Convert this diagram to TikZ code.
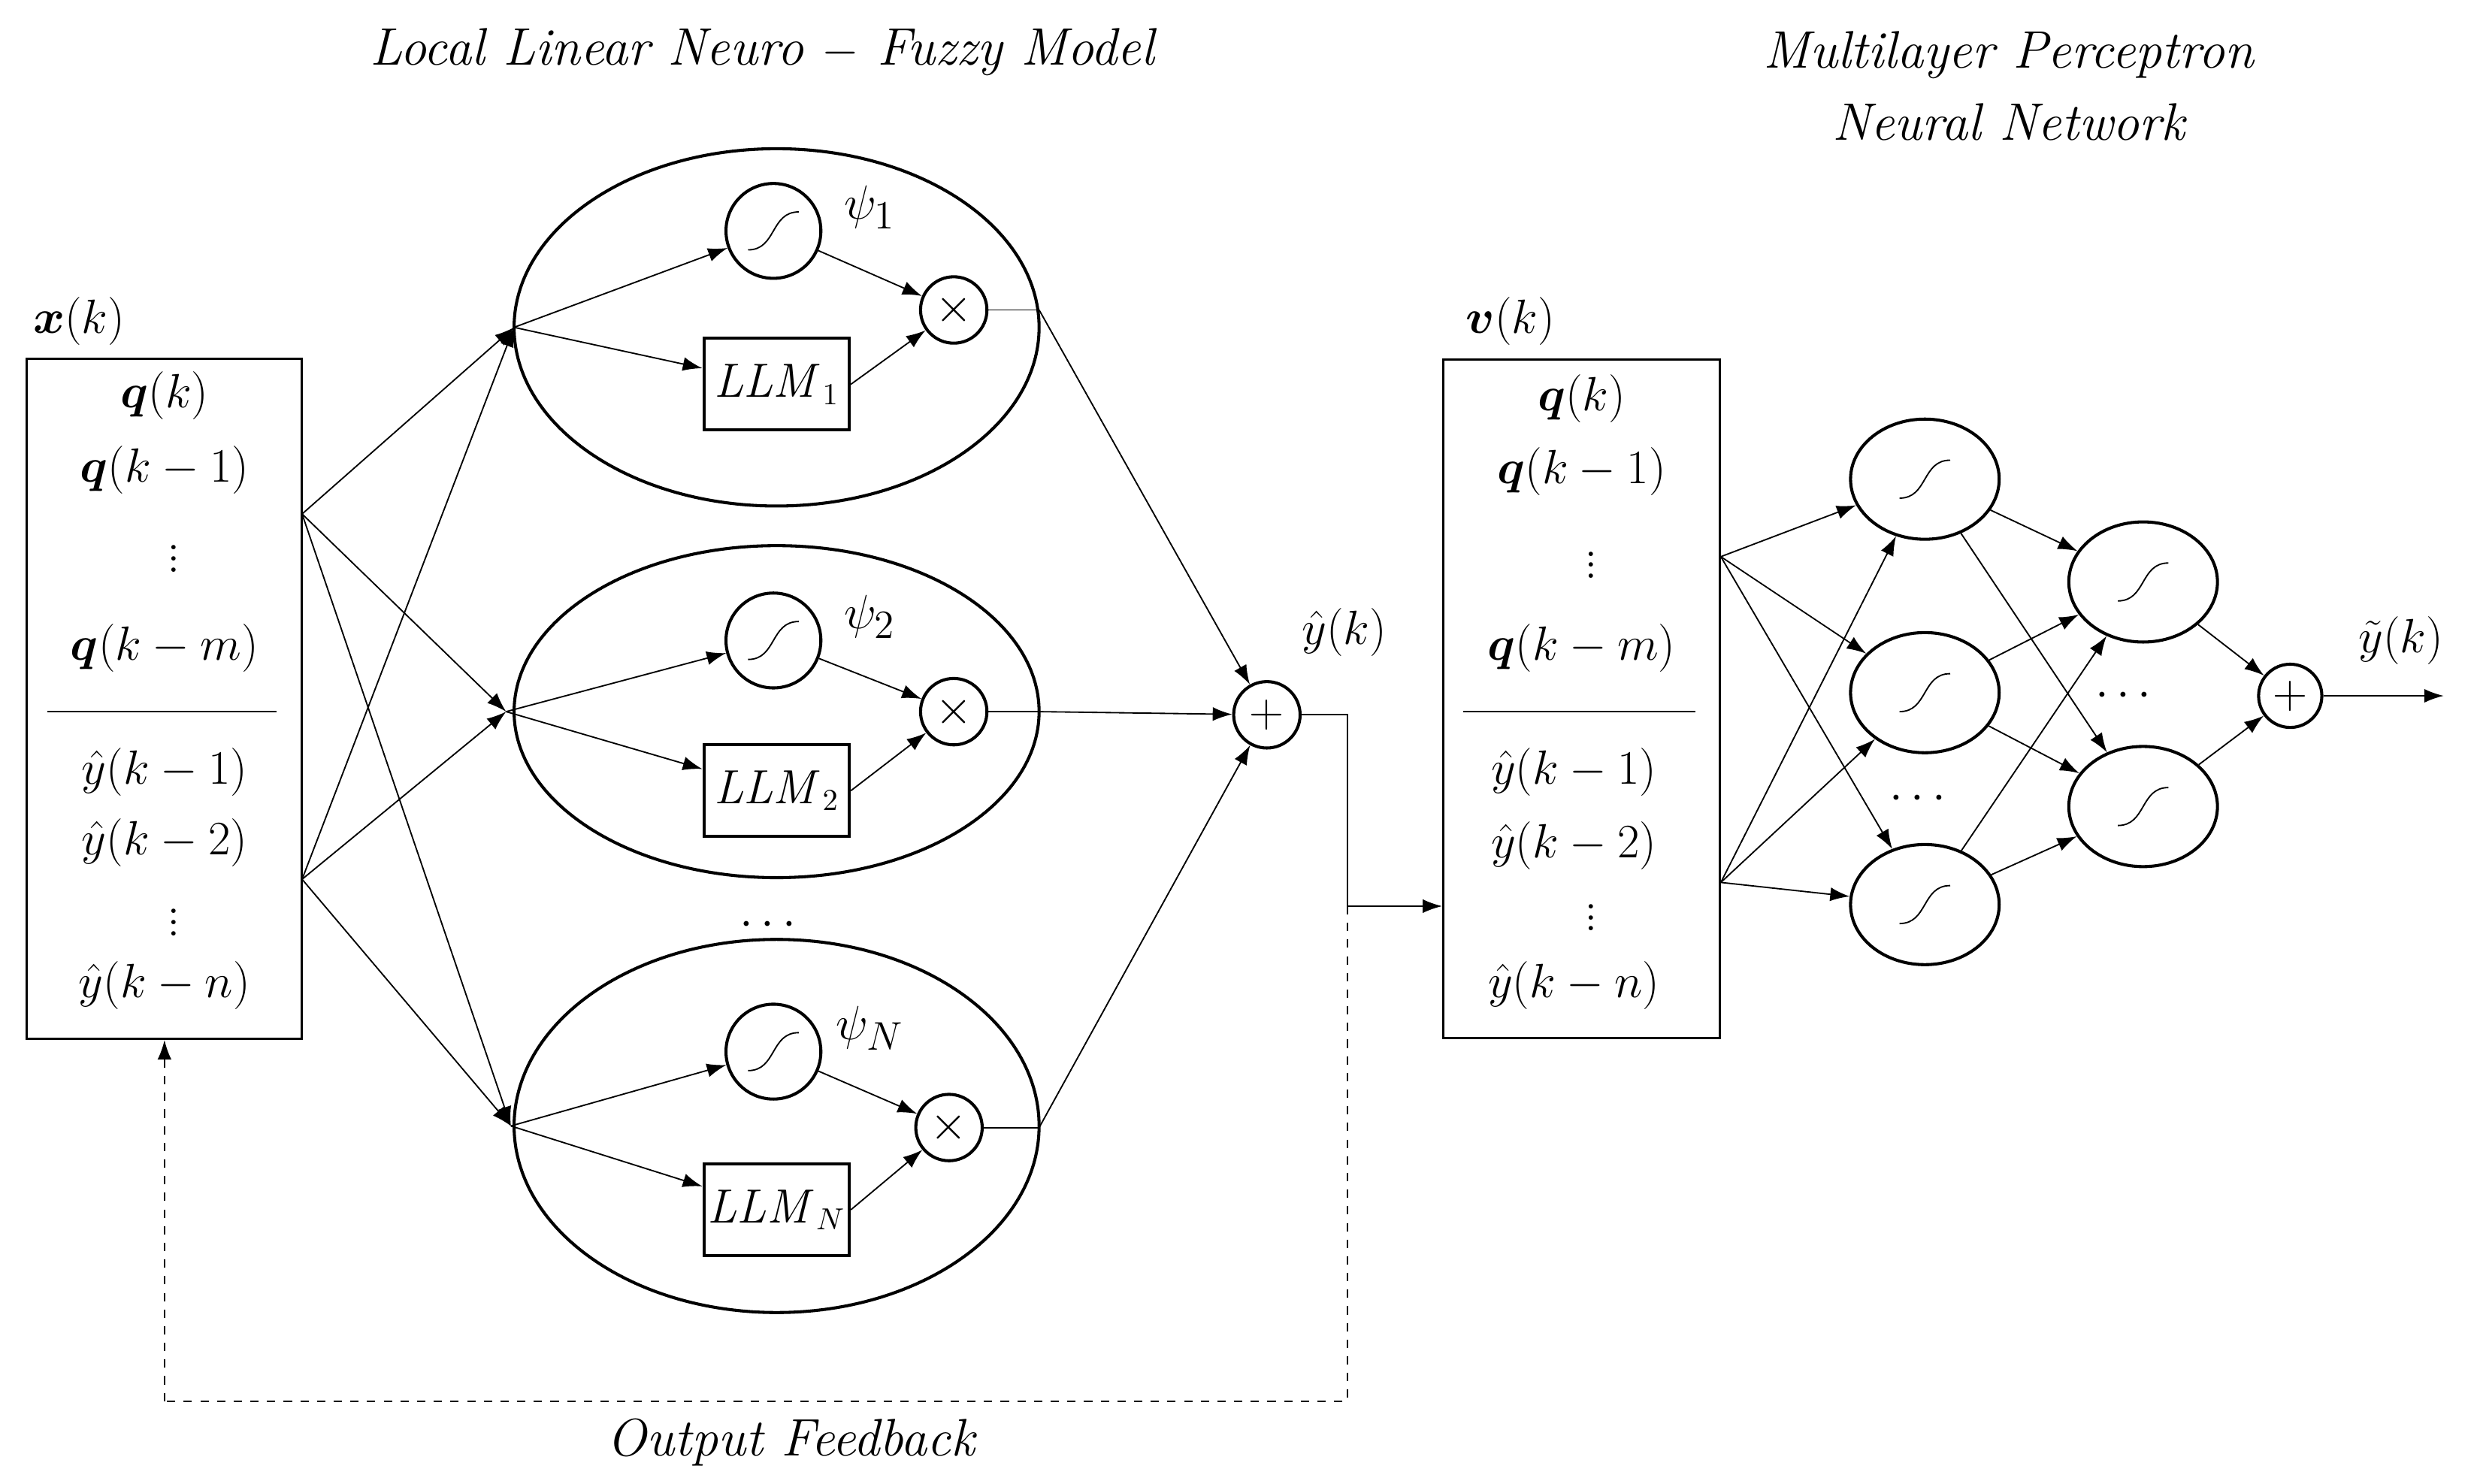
\documentclass[tikz,border=0pt]{standalone}
\usepackage{amsmath,bm}
\usetikzlibrary{arrows.meta,shapes.geometric,calc}
\begin{document}
\begin{tikzpicture}[x=0.02cm,y=-0.02cm,
  every node/.style={font=\fontsize{19}{22}\selectfont,inner sep=1pt},
  ar/.style={-{Latex[length=7pt,width=5pt]},line width=0.5pt},
  ln/.style={line width=0.5pt},
  sig/.style={circle,draw,line width=1.1pt,minimum size=1.2cm,inner sep=0pt},
  big/.style={ellipse,draw,line width=1.1pt},
  llm/.style={rectangle,draw,line width=1.1pt,minimum width=1.84cm,minimum height=1.16cm,inner sep=0pt,font=\fontsize{16}{18}\selectfont},
  tm/.style={circle,draw,line width=1.1pt,minimum size=0.84cm,inner sep=0pt},
  hid/.style={ellipse,draw,line width=1.1pt,minimum width=1.88cm,minimum height=1.52cm,inner sep=0pt},
  tt/.style={font=\fontsize{19}{22}\selectfont\itshape}]
\useasboundingbox (0,0) rectangle (1568,938);
\newcommand{\sgm}[1]{\draw[line width=0.5pt] ($(#1)+(-16,12)$) .. controls ($(#1)+(2,12)$) and ($(#1)+(-2,-12)$) .. ($(#1)+(16,-12)$);}
% titles
\node[tt] (t1) at (482,33) {Local Linear Neuro $-$ Fuzzy Model};
\node[tt] (t2) at (1270,35) {Multilayer Perceptron};
\node[tt] (t3) at (1270,77) {Neural Network};
\node[tt] (t4) at (500,912) {Output Feedback};
% left box
\node[draw,line width=0.8pt,minimum width=3.48cm,minimum height=8.6cm,inner sep=0pt] (xb) at (104,442) {};
\node (xl) at (50,203) {$\bm{x}(k)$};
\node (a1) at (104,250) {$\bm{q}(k)$};
\node (a2) at (104,297) {$\bm{q}(k-1)$};
\node (a3) at (110,348) {$\vdots$};
\node (a4) at (104,410) {$\bm{q}(k-m)$};
\draw[ln] (30,450) -- (175,450);
\node (a5) at (104,488) {$\hat{y}(k-1)$};
\node (a6) at (104,533) {$\hat{y}(k-2)$};
\node (a7) at (110,578) {$\vdots$};
\node (a8) at (104,623) {$\hat{y}(k-n)$};
\coordinate (p1) at (191,325);
\coordinate (p2) at (191,556);
% ellipses
\node[big,minimum width=6.64cm,minimum height=4.52cm] (e1) at (491,207) {};
\node[big,minimum width=6.64cm,minimum height=4.2cm] (e2) at (491,450) {};
\node[big,minimum width=6.64cm,minimum height=4.72cm] (e3) at (491,712) {};
\coordinate (i1) at (325,207);
\coordinate (i2) at (320,450);
\coordinate (i3) at (323,712);
\foreach \p in {p1,p2}{\foreach \i in {i1,i2,i3}{\draw[ar] (\p) -- (\i);}}
% ellipse contents
\foreach \k/\ly/\ty/\sy/\sub/\psl/\tx in {1/243/196/146/1/\psi_1/603, 2/500/450/405/2/\psi_2/603, 3/765/713/665/N/\psi_N/600}{
  \node[sig] (s\k) at (489,\sy) {};
  \sgm{s\k}
  \node[llm] (l\k) at (491,\ly) {$\mathit{LLM}_{\sub}$};
  \node[tm] (m\k) at (\tx,\ty) {$\times$};
  \node (ps\k) at (550,\sy-15) {$\psl$};
  \draw[ar] (i\k) -- (s\k);
  \draw[ar] (i\k) -- (l\k);
  \draw[ar] (s\k) -- (m\k);
  \draw[ar] (l\k.east) -- (m\k);
  \coordinate (o\k) at (657,\ty);
  \draw[ln] (m\k) -- (o\k);
}
\node (d1) at (488,585) {$\cdots$};
% sum
\node[tm] (sum) at (801,452) {$+$};
\node (yh) at (850,400) {$\hat{y}(k)$};
\draw[ar] (o1) -- (sum);
\draw[ar] (o2) -- (sum);
\draw[ar] (o3) -- (sum);
\coordinate (c1) at (852,452);
\coordinate (c2) at (852,573);
\coordinate (c3) at (852,886);
\coordinate (c4) at (104,886);
% right box
\node[draw,line width=0.8pt,minimum width=3.5cm,minimum height=8.58cm,inner sep=0pt] (vb) at (1000,442) {};
\node (vl) at (955,203) {$\bm{v}(k)$};
\node (b1) at (1000,252) {$\bm{q}(k)$};
\node (b2) at (1000,298) {$\bm{q}(k-1)$};
\node (b3) at (1006,352) {$\vdots$};
\node (b4) at (1000,410) {$\bm{q}(k-m)$};
\draw[ln] (925,450) -- (1072,450);
\node (b5) at (995,488) {$\hat{y}(k-1)$};
\node (b6) at (995,535) {$\hat{y}(k-2)$};
\node (b7) at (1006,575) {$\vdots$};
\node (b8) at (995,623) {$\hat{y}(k-n)$};
\draw[ln] (sum) -- (c1) -- (c2);
\draw[ar] (c2) -- (vb.west |- c2);
\draw[ln,dashed] (c2) -- (c3) -- (c4);
\draw[ar,dashed] (c4) -- (xb.south);
% MLP
\coordinate (q1) at (1088,352);
\coordinate (q2) at (1088,558);
\node[hid] (h1) at (1217,303) {}; \sgm{h1}
\node[hid] (h2) at (1217,438) {}; \sgm{h2}
\node[hid] (h3) at (1217,572) {}; \sgm{h3}
\node (d2) at (1215,505) {$\cdots$};
\node[hid] (g1) at (1355,368) {}; \sgm{g1}
\node[hid] (g2) at (1355,510) {}; \sgm{g2}
\node (d3) at (1345,440) {$\cdots$};
\foreach \q in {q1,q2}{\foreach \h in {h1,h2,h3}{\draw[ar] (\q) -- (\h);}}
\foreach \h in {h1,h2,h3}{\foreach \g in {g1,g2}{\draw[ar] (\h) -- (\g);}}
\node[circle,draw,line width=1.1pt,minimum size=0.8cm,inner sep=0pt] (s2) at (1448,440) {$+$};
\draw[ar] (g1) -- (s2);
\draw[ar] (g2) -- (s2);
\coordinate (out) at (1545,440);
\draw[ar] (s2) -- (out);
\node (yt) at (1518,405) {$\tilde{y}(k)$};
\end{tikzpicture}
\end{document}
